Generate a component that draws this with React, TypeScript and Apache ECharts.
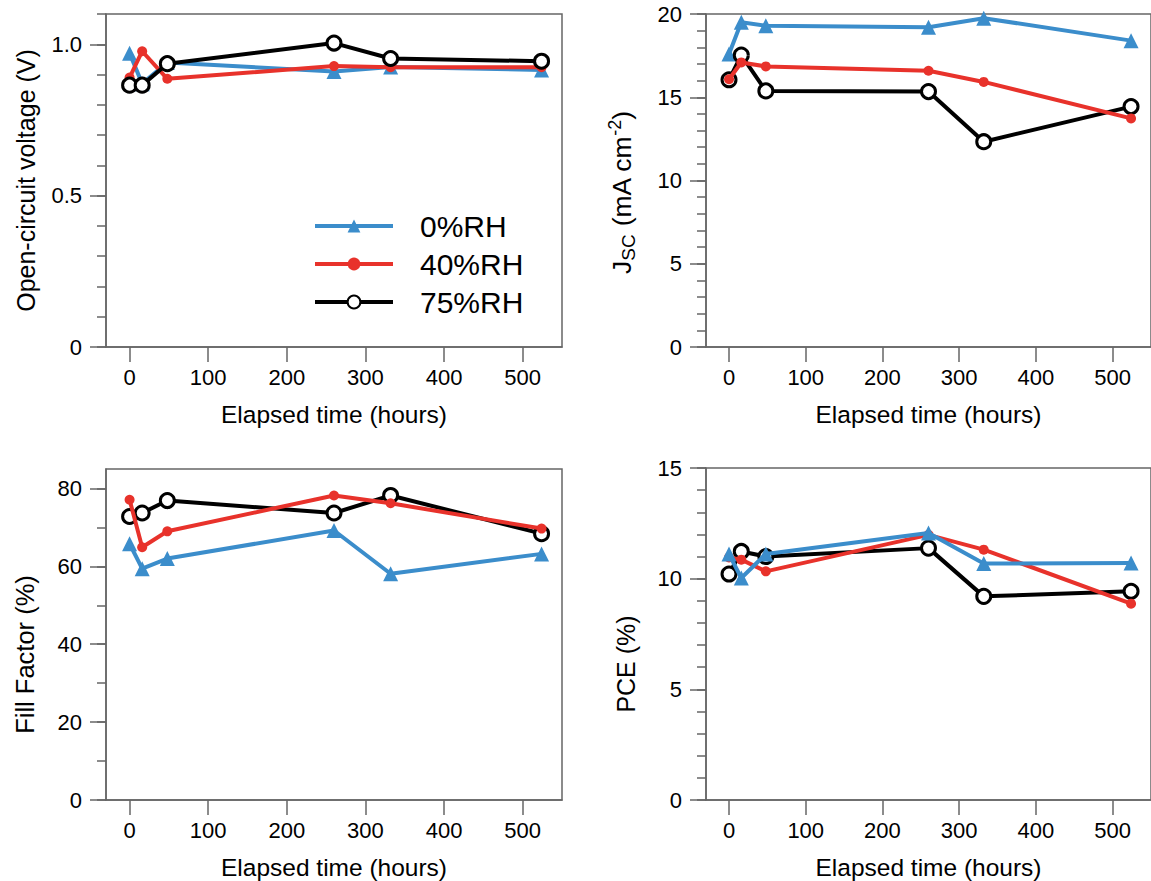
import React, { useEffect, useRef } from 'react';
import * as echarts from 'echarts';

// ---- data ----
const times = [0, 16, 48, 260, 332, 524];
const seriesNames = ['0%RH', '40%RH', '75%RH'];
const xTicks = [0, 100, 200, 300, 400, 500];

const vocRH0 = [0.97, 0.87, 0.94, 0.91, 0.925, 0.915];
const vocRH40 = [0.89, 0.977, 0.886, 0.928, 0.924, 0.924];
const vocRH75 = [0.865, 0.865, 0.936, 1.004, 0.953, 0.944];

const jscRH0 = [17.6, 19.5, 19.3, 19.2, 19.75, 18.4];
const jscRH40 = [16.08, 17.09, 16.85, 16.59, 15.92, 13.73];
const jscRH75 = [16.05, 17.53, 15.38, 15.34, 12.33, 14.44];

const ffRH0 = [65.8, 59.4, 62.0, 69.2, 58.1, 63.2];
const ffRH40 = [77.1, 64.9, 69.0, 78.2, 76.2, 69.7];
const ffRH75 = [72.8, 73.7, 76.9, 73.7, 78.2, 68.4];

const pceRH0 = [11.11, 10.03, 11.11, 12.06, 10.68, 10.71];
const pceRH40 = [10.96, 10.86, 10.33, 11.98, 11.31, 8.87];
const pceRH75 = [10.21, 11.23, 11.0, 11.38, 9.2, 9.43];

const vocTicks = [0, 0.5, 1.0];
const jscTicks = [0, 5, 10, 15, 20];
const ffTicks = [0, 20, 40, 60, 80];
const ffMinorTicks = [0, 10, 20, 30, 40, 50, 60, 70, 80];
const pceTicks = [0, 5, 10, 15];

// ---- style ----
const FONT = '"Liberation Sans", Arial, Helvetica, sans-serif';
const BLUE = '#3b8dcb';
const RED = '#e8322b';
const BLACK = '#000000';
const AXIS = '#666666';

const grids = [
  { left: 106, top: 14, width: 456, height: 333 },
  { left: 706, top: 14, width: 458, height: 333 },
  { left: 106, top: 469, width: 456, height: 331 },
  { left: 706, top: 468, width: 458, height: 333 },
];

const panels: any[] = [
  {
    name: 'Open-circuit voltage (V)', nameSize: 25,
    min: 0, max: 1.1, minor: 0.1, majors: vocTicks,
    fmt: (v: number) => (v === 0 ? '0' : v.toFixed(1)),
    data: [vocRH0, vocRH40, vocRH75], order: [0, 1, 2], namePad: [0, 0, 0, 0],
  },
  {
    name: 'J{sub|SC} (mA cm{sup|-2})', nameSize: 26.5,
    min: 0, max: 20, minor: 1, majors: jscTicks,
    fmt: (v: number) => String(v),
    data: [jscRH0, jscRH40, jscRH75], order: [0, 2, 1], namePad: [0, 24, 0, 0],
  },
  {
    name: 'Fill Factor (%)', nameSize: 25.5,
    min: 0, max: 85, minorValues: ffMinorTicks, majors: ffTicks,
    fmt: (v: number) => String(v),
    data: [ffRH0, ffRH40, ffRH75], order: [0, 2, 1], namePad: [0, 40, 0, 0],
  },
  {
    name: 'PCE (%)', nameSize: 25,
    min: 0, max: 15, minor: 1, majors: pceTicks,
    fmt: (v: number) => String(v),
    data: [pceRH0, pceRH40, pceRH75], order: [2, 1, 0], namePad: [0, 60, 0, 0],
  },
];

const seriesStyles = [
  { color: BLUE, symbol: 'triangle', symbolSize: 15, itemStyle: { color: BLUE } },
  { color: RED, symbol: 'circle', symbolSize: 10, itemStyle: { color: RED } },
  {
    color: BLACK, symbol: 'circle', symbolSize: 14,
    itemStyle: { color: '#ffffff', borderColor: BLACK, borderWidth: 3 },
  },
];

function buildOption() {
  const xAxis: any[] = [];
  const yAxis: any[] = [];
  const series: any[] = [];
  panels.forEach((p, i) => {
    xAxis.push({
      type: 'value', gridIndex: i, min: -30, max: 550,
      axisLine: { show: true, onZero: false, lineStyle: { color: AXIS, width: 1.5 } },
      axisTick: { show: true, inside: false, length: 15, customValues: xTicks, lineStyle: { color: AXIS, width: 1.5 } },
      axisLabel: { customValues: xTicks, fontSize: 22, color: '#000', margin: 19, fontFamily: FONT },
      splitLine: { show: false },
      name: 'Elapsed time (hours)', nameLocation: 'middle', nameGap: 55,
      nameTextStyle: { fontSize: 24.5, color: '#000', fontFamily: FONT },
    });
    const minorTick: any = { show: true, inside: false, length: 9, lineStyle: { color: AXIS, width: 1.5 } };
    if (p.minorValues) minorTick.customValues = p.minorValues;
    const minorAxis: any = {
      type: 'value', gridIndex: i, min: p.min, max: p.max, position: 'left',
      axisLine: { show: true, onZero: false, lineStyle: { color: AXIS, width: 1.5 } },
      axisTick: minorTick,
      axisLabel: { show: false },
      splitLine: { show: false },
      name: p.name, nameLocation: 'middle', nameGap: 68,
      nameTextStyle: {
        fontSize: p.nameSize, color: '#000', fontFamily: FONT, padding: p.namePad,
        rich: {
          sub: { fontSize: 19, fontFamily: FONT, color: '#000', padding: [14, 0, 0, 0] },
          sup: { fontSize: 18, fontFamily: FONT, color: '#000', padding: [0, 0, 14, 0] },
        },
      },
    };
    if (p.minor) minorAxis.interval = p.minor;
    yAxis.push(minorAxis);
    yAxis.push({
      type: 'value', gridIndex: i, min: p.min, max: p.max, position: 'left',
      axisLine: { show: false, onZero: false },
      axisTick: { show: true, inside: false, length: 16, customValues: p.majors, lineStyle: { color: AXIS, width: 1.5 } },
      axisLabel: { customValues: p.majors, fontSize: 22, color: '#000', margin: 24, fontFamily: FONT, formatter: p.fmt },
      splitLine: { show: false },
    });
    p.order.forEach((k: number, zi: number) => {
      const st = seriesStyles[k];
      series.push({
        type: 'line', name: seriesNames[k], xAxisIndex: i, yAxisIndex: 2 * i,
        data: times.map((t, j) => [t, p.data[k][j]]),
        symbol: st.symbol, symbolSize: st.symbolSize,
        lineStyle: { color: st.color, width: 4 },
        itemStyle: st.itemStyle,
        z: 2 + zi,
      });
    });
  });
  return {
    animation: false,
    backgroundColor: '#ffffff',
    textStyle: { fontFamily: FONT },
    grid: grids.map((g) => ({ ...g, show: true, borderColor: AXIS, borderWidth: 1.5, backgroundColor: 'transparent' })),
    legend: {
      data: seriesNames, orient: 'vertical', left: 313, top: 211, padding: 0,
      itemWidth: 78, itemHeight: 16, itemGap: 8,
      lineStyle: { width: 4 },
      textStyle: { fontSize: 30, color: '#000', fontFamily: FONT, lineHeight: 30, padding: [0, 0, 0, 22] },
    },
    xAxis, yAxis, series,
  };
}

export default function App() {
  const ref = useRef<HTMLDivElement>(null);
  useEffect(() => {
    if (!ref.current) return;
    const chart = echarts.init(ref.current, null, { renderer: 'svg' });
    chart.setOption(buildOption() as any);
    return () => chart.dispose();
  }, []);
  return <div ref={ref} style={{ position: 'absolute', left: 0, top: 0, width: 1151, height: 881 }} />;
}
